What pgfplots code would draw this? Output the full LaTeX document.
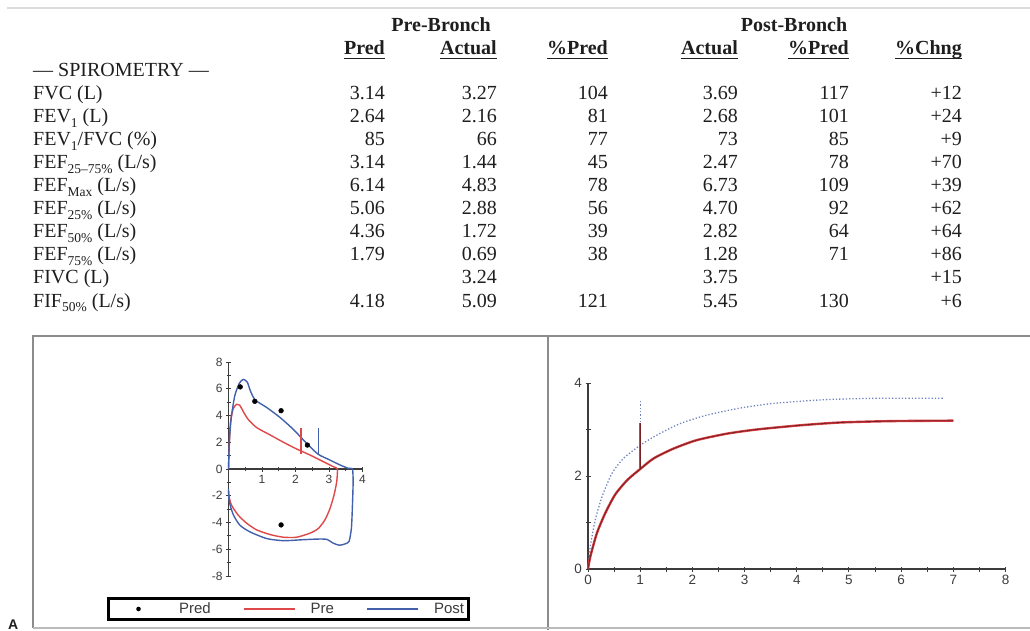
\documentclass[border=0pt]{standalone}
\usepackage{pgfplots}
\pgfplotsset{compat=1.18}
\usepackage{fontspec}
\setmainfont{Liberation Serif}
\newfontfamily\plotfont{Liberation Sans}

\definecolor{txt}{HTML}{1E1E1E}
\definecolor{pre}{RGB}{222,72,72}
\definecolor{post}{RGB}{66,96,172}
\definecolor{vtpre}{RGB}{214,60,64}
\definecolor{vtcore}{RGB}{120,32,34}
\definecolor{vtpost}{RGB}{112,132,192}
\definecolor{frame}{HTML}{8C8C8C}
\definecolor{ax}{HTML}{3C3C3C}

\newcommand\tfont{\fontsize{20}{23}\selectfont}
\newcommand\sbs[1]{\raisebox{-0.22em}{\fontsize{13.5}{13.5}\selectfont #1}}
% one table row: index, label, then the six values
\newcommand\row[8]{%
  \node[anchor=base west] at (33,{530-23*#1}) {#2};
  \node[anchor=base east] at (385,{530-23*#1}) {#3};
  \node[anchor=base east] at (497,{530-23*#1}) {#4};
  \node[anchor=base east] at (608,{530-23*#1}) {#5};
  \node[anchor=base east] at (738,{530-23*#1}) {#6};
  \node[anchor=base east] at (849,{530-23*#1}) {#7};
  \node[anchor=base east] at (962,{530-23*#1}) {#8};
}
\newcommand\hd[2]{%
  \node[anchor=base east, font=\tfont\bfseries] (h) at (#1,575) {#2};
  \draw[line width=1.8pt, txt] ([yshift=-3.5pt]h.base west) -- ([yshift=-3.5pt]h.base east);
}

\begin{document}
\begin{tikzpicture}[x=1pt, y=1pt]
\useasboundingbox (0,0) rectangle (1030,630);

% table
\draw[line width=1.5pt, black!14] (7,622) -- (1030,622);
\begin{scope}[every node/.style={inner sep=0pt, text=txt, font=\tfont}]
  \node[anchor=base, font=\tfont\bfseries] at (441,598) {Pre-Bronch};
  \node[anchor=base, font=\tfont\bfseries] at (794,598) {Post-Bronch};
  \hd{385}{Pred}
  \hd{497}{Actual}
  \hd{608}{\%Pred}
  \hd{738}{Actual}
  \hd{849}{\%Pred}
  \hd{962}{\%Chng}
  \node[anchor=base west] at (33,553) {--- SPIROMETRY ---};
  \row{0}{FVC (L)}{3.14}{3.27}{104}{3.69}{117}{+12}
  \row{1}{FEV\sbs{1} (L)}{2.64}{2.16}{81}{2.68}{101}{+24}
  \row{2}{FEV\sbs{1}/FVC (\%)}{85}{66}{77}{73}{85}{+9}
  \row{3}{FEF\sbs{25--75\%} (L/s)}{3.14}{1.44}{45}{2.47}{78}{+70}
  \row{4}{FEF\sbs{Max} (L/s)}{6.14}{4.83}{78}{6.73}{109}{+39}
  \row{5}{FEF\sbs{25\%} (L/s)}{5.06}{2.88}{56}{4.70}{92}{+62}
  \row{6}{FEF\sbs{50\%} (L/s)}{4.36}{1.72}{39}{2.82}{64}{+64}
  \row{7}{FEF\sbs{75\%} (L/s)}{1.79}{0.69}{38}{1.28}{71}{+86}
  \row{8}{FIVC (L)}{}{3.24}{}{3.75}{}{+15}
  \row{9}{FIF\sbs{50\%} (L/s)}{4.18}{5.09}{121}{5.45}{130}{+6}
\end{scope}

% panel frames
\draw[frame, line width=1.8pt] (33,2) -- (33,294) -- (1030,294);
\draw[frame, line width=1.8pt] (548,0) -- (548,294);
\draw[frame!60, line width=1.2pt] (33,2) -- (1030,2);
\node[anchor=base west, inner sep=0pt, font=\plotfont\fontsize{14}{14}\selectfont\bfseries, text=txt] at (8,1) {A};

% flow-volume loop
\begin{axis}[
  at={(228.5pt,54pt)}, anchor=south west,
  scale only axis, width=134pt, height=214pt,
  xmin=0, xmax=4, ymin=-8, ymax=8,
  axis lines=middle, axis line style={-, ax, line width=1.1pt},
  xtick={1,2,3,4}, ytick={-8,-6,...,8},
  minor xtick={0.5,1.5,2.5,3.5}, minor ytick={-7,-5,...,7},
  hide obscured y ticks=false,
  tick style={ax, line width=0.9pt}, major tick length=5pt, minor tick length=4pt,
  tick align=center,
  tick label style={font=\plotfont\fontsize{12}{12}\selectfont, text=ax},
  /pgf/number format/assume math mode=true,
  clip=false,
  legend columns=3,
  legend style={at={(0.448,-0.154)}, anchor=center, draw=black, line width=2.5pt,
    inner xsep=4.5pt, inner ysep=4.5pt, nodes={inner sep=0pt},
    font=\plotfont\fontsize{15}{16}\selectfont, text=ax,
    /tikz/every odd column/.append style={column sep=15pt},
    /tikz/every even column/.append style={column sep=32pt}},
]
\addlegendimage{legend image code/.code={\path[draw=none] (0pt,0pt) (51pt,0pt); \fill[black, draw=none] (25.5pt,0pt) circle (2.3pt);}}
\addlegendentry{Pred}
\addlegendimage{legend image code/.code={\draw[pre, line width=2pt] (0pt,0pt) -- (51pt,0pt);}}
\addlegendentry{Pre}
\addlegendimage{legend image code/.code={\draw[post, line width=2pt] (0pt,0pt) -- (51pt,0pt);}}
\addlegendentry{Post}

% pre-bronch loop
\addplot[pre, line width=1.4pt, smooth, tension=0.4, forget plot] coordinates {
  (0,0) (0.02,1.55) (0.06,3.5) (0.14,4.5) (0.24,4.83) (0.34,4.75) (0.44,4.3)
  (0.59,3.7) (0.84,3.1) (1.24,2.55) (1.64,2.0) (2.03,1.5) (2.43,1.05)
  (2.83,0.55) (3.13,0.17) (3.25,0)
  (3.23,-0.95) (3.15,-1.95) (3.03,-2.95) (2.88,-3.8) (2.68,-4.45) (2.43,-4.8)
  (2.03,-5.1) (1.64,-5.1) (1.24,-4.9) (0.84,-4.55) (0.54,-4.05) (0.29,-3.45)
  (0.09,-2.7) (0.02,-2.1) (0,-1.6)};
% post-bronch loop
\addplot[post, line width=1.4pt, smooth, tension=0.4, forget plot] coordinates {
  (0,0) (0.03,2.3) (0.09,4.0) (0.19,5.5) (0.32,6.4) (0.44,6.7) (0.56,6.5)
  (0.66,5.8) (0.8,5.15) (1.14,4.6) (1.54,3.85) (1.94,2.95) (2.34,1.9)
  (2.68,1.1) (3.03,0.67) (3.33,0.3) (3.58,0.05) (3.7,0)
  (3.72,-0.95) (3.7,-2.7) (3.67,-4.4) (3.6,-5.4) (3.48,-5.6) (3.31,-5.7)
  (3.13,-5.55) (2.93,-5.26) (2.63,-5.24) (2.13,-5.3) (1.64,-5.36) (1.14,-5.2)
  (0.64,-4.7) (0.34,-4.2) (0.14,-3.4) (0.02,-2.4) (0,-1.5)};
% FEV1 markers
\addplot[pre, line width=1.4pt, forget plot] coordinates {(2.16,3.1) (2.16,1.1)};
\addplot[post, line width=1.4pt, forget plot] coordinates {(2.68,3.1) (2.68,1.1)};
% predicted values
\addplot[only marks, mark=*, mark size=2.4pt, black, forget plot] coordinates {
  (0.35,6.14) (0.785,5.06) (1.57,4.36) (2.355,1.79) (1.57,-4.18)};
\end{axis}

% volume-time curve
\begin{axis}[
  at={(588pt,61pt)}, anchor=south west,
  scale only axis, width=417.5pt, height=186pt,
  xmin=0, xmax=8, ymin=0, ymax=4,
  axis lines=left, axis line style={-, ax, line width=1.4pt},
  xtick={0,...,8}, ytick={0,2,4},
  minor xtick={0.5,1.5,...,7.5}, minor ytick={1,3},
  tick style={ax, line width=1pt}, major tick length=5pt, minor tick length=5pt,
  tick align=center,
  tick label style={font=\plotfont\fontsize{13.5}{13.5}\selectfont, text=ax},
  /pgf/number format/assume math mode=true,
  clip=false,
]
\addplot[vtpost, line width=1.3pt, dotted, smooth, tension=0.4] coordinates {
  (0,0) (0.045,0.49) (0.14,1.06) (0.27,1.56) (0.46,2.06) (0.68,2.38) (1,2.66)
  (1.32,2.88) (1.77,3.13) (2.28,3.31) (2.91,3.46) (3.55,3.56) (4.51,3.64)
  (5.46,3.67) (6.8,3.67)};
\addplot[vtpost, line width=1.3pt, dotted] coordinates {(1,2.66) (1,3.65)};
\addplot[vtpre, line width=2.4pt, smooth, tension=0.4] coordinates {
  (0,0) (0.045,0.27) (0.17,0.77) (0.33,1.2) (0.52,1.6) (0.75,1.91) (1,2.15)
  (1.26,2.38) (1.64,2.59) (2.08,2.77) (2.66,2.91) (3.23,3.0) (4.06,3.09)
  (4.82,3.15) (5.78,3.18) (7,3.19)};
\addplot[vtcore, line width=0.8pt, smooth, tension=0.4] coordinates {
  (0,0) (0.045,0.27) (0.17,0.77) (0.33,1.2) (0.52,1.6) (0.75,1.91) (1,2.15)
  (1.26,2.38) (1.64,2.59) (2.08,2.77) (2.66,2.91) (3.23,3.0) (4.06,3.09)
  (4.82,3.15) (5.78,3.18) (7,3.19)};
\addplot[vtpre, line width=2pt] coordinates {(1,2.15) (1,3.13)};
\addplot[vtcore, line width=0.7pt] coordinates {(1,2.15) (1,3.13)};
\end{axis}
\end{tikzpicture}
\end{document}
